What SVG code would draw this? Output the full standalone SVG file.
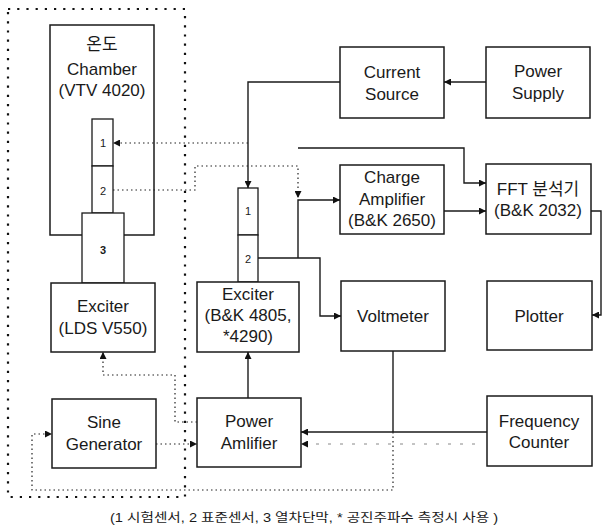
<svg xmlns="http://www.w3.org/2000/svg" width="606" height="530" viewBox="0 0 606 530">
<defs>
<style>
.box{fill:#fff;stroke:#1a1a1a;stroke-width:1.5}
.sen{fill:#fff;stroke:#1a1a1a;stroke-width:1.3}
.t{font-family:"Liberation Sans","Noto Sans CJK KR",sans-serif;font-size:17px;fill:#1a1a1a;text-anchor:middle}
.n{font-family:"Liberation Sans",sans-serif;font-size:11px;fill:#1a1a1a;text-anchor:middle}
.solid{fill:none;stroke:#1a1a1a;stroke-width:1.4}
.dot{fill:none;stroke:#222;stroke-width:1.2;stroke-dasharray:1.5 3}
.outer{fill:none;stroke:#111;stroke-width:2.2;stroke-dasharray:2.2 7}
.faint{fill:none;stroke:#888;stroke-width:1;stroke-dasharray:3 9}
.cap{font-family:"Liberation Sans","Noto Sans CJK KR",sans-serif;font-size:12.5px;fill:#1a1a1a}
</style>
<marker id="ah" viewBox="0 0 8 8" refX="8" refY="4" markerWidth="7" markerHeight="7" orient="auto" markerUnits="userSpaceOnUse">
<path d="M0,0 L8,4 L0,8 Z" fill="#111"/>
</marker>
</defs>

<g id="chamber">
<rect class="box" x="50" y="25" width="104" height="210"/>
<text class="t" x="102" y="50">온도</text>
<text class="t" x="102" y="75">Chamber</text>
<text class="t" x="102" y="96">(VTV 4020)</text>
</g>
<g id="chamber-sensor1">
<rect class="sen" x="92" y="119" width="21" height="47"/>
<text class="n" x="103" y="147">1</text>
</g>
<g id="chamber-sensor2">
<rect class="sen" x="92" y="166" width="21" height="47"/>
<text class="n" x="103" y="195">2</text>
</g>
<g id="thermal-barrier">
<rect class="sen" x="82" y="213" width="42" height="70"/>
<text class="n" x="103" y="254" font-weight="bold">3</text>
</g>
<g id="exciter-lds">
<rect class="box" x="51" y="283" width="104" height="69"/>
<text class="t" x="103" y="312">Exciter</text>
<text class="t" x="103" y="334">(LDS V550)</text>
</g>
<g id="sine-generator">
<rect class="box" x="52" y="399" width="104" height="69"/>
<text class="t" x="104" y="428">Sine</text>
<text class="t" x="104" y="450">Generator</text>
</g>

<g id="sensor1">
<rect class="sen" x="238" y="188" width="20" height="47"/>
<text class="n" x="248" y="215">1</text>
</g>
<g id="sensor2">
<rect class="sen" x="238" y="235" width="20" height="47"/>
<text class="n" x="248" y="263">2</text>
</g>
<g id="exciter-bk">
<rect class="box" x="197" y="282" width="102" height="70"/>
<text class="t" x="248" y="300">Exciter</text>
<text class="t" x="248" y="321">(B&amp;K 4805,</text>
<text class="t" x="248" y="342">*4290)</text>
</g>
<g id="power-amplifier">
<rect class="box" x="197" y="398" width="104" height="69"/>
<text class="t" x="249" y="427">Power</text>
<text class="t" x="249" y="449">Amlifier</text>
</g>

<g id="current-source">
<rect class="box" x="340" y="47" width="104" height="71"/>
<text class="t" x="392" y="78">Current</text>
<text class="t" x="392" y="100">Source</text>
</g>
<g id="power-supply">
<rect class="box" x="486" y="47" width="104" height="71"/>
<text class="t" x="538" y="77">Power</text>
<text class="t" x="538" y="99">Supply</text>
</g>
<g id="charge-amplifier">
<rect class="box" x="340" y="165" width="104" height="69"/>
<text class="t" x="392" y="183">Charge</text>
<text class="t" x="392" y="205">Amplifier</text>
<text class="t" x="392" y="226">(B&amp;K 2650)</text>
</g>
<g id="fft">
<rect class="box" x="486" y="164" width="105" height="70"/>
<text class="t" x="538" y="195">FFT 분석기</text>
<text class="t" x="538" y="216">(B&amp;K 2032)</text>
</g>
<g id="voltmeter">
<rect class="box" x="341" y="281" width="104" height="70"/>
<text class="t" x="393" y="322">Voltmeter</text>
</g>
<g id="plotter">
<rect class="box" x="487" y="281" width="105" height="69"/>
<text class="t" x="539" y="322">Plotter</text>
</g>
<g id="frequency-counter">
<rect class="box" x="487" y="396" width="105" height="70"/>
<text class="t" x="539" y="427">Frequency</text>
<text class="t" x="539" y="448">Counter</text>
</g>

<g id="connectors">
<rect class="outer" x="8" y="9" width="177" height="488"/>
<path class="solid" d="M486,82 H444" marker-end="url(#ah)"/>
<path class="solid" d="M340,82 H248 V188" marker-end="url(#ah)"/>
<path class="solid" d="M298,148 H464 V183 H486" marker-end="url(#ah)"/>
<path class="solid" d="M444,211 H486" marker-end="url(#ah)"/>
<path class="solid" d="M591,211 H601 V315 H592" marker-end="url(#ah)"/>
<path class="solid" d="M298,258 V200 H340" marker-end="url(#ah)"/>
<path class="solid" d="M258,258 H320 V316 H341" marker-end="url(#ah)"/>
<path class="solid" d="M248,398 V352" marker-end="url(#ah)"/>
<path class="solid" d="M393,351 V432"/>
<path class="solid" d="M487,432 H301" marker-end="url(#ah)"/>
<path class="dot" d="M248,143 H113" marker-end="url(#ah)"/>
<path class="dot" d="M113,190 H195 V166 H298 V198" marker-end="url(#ah)"/>
<path class="dot" d="M393,432 V490 H32 V434 H52" marker-end="url(#ah)"/>
<path class="dot" d="M156,444 H197" marker-end="url(#ah)"/>
<path class="dot" d="M197,422 H175 V375 H103 V352" marker-end="url(#ah)"/>
<path class="faint" d="M475,444 H301" marker-end="url(#ah)"/>
</g>

<text class="cap" x="110" y="522" textLength="388" lengthAdjust="spacingAndGlyphs">(1 시험센서, 2 표준센서, 3 열차단막, * 공진주파수 측정시 사용 )</text>
</svg>
